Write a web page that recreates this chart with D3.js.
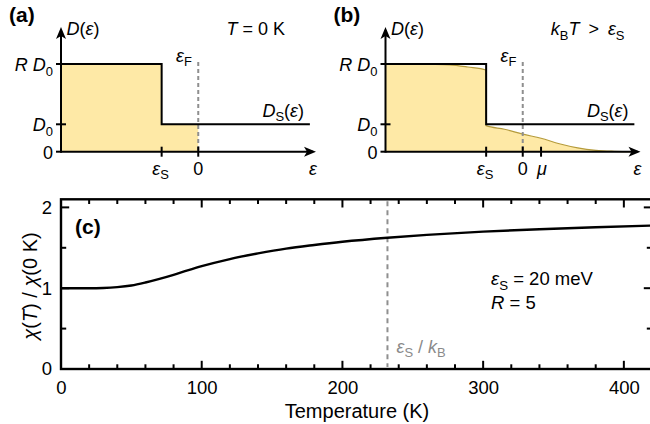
<!DOCTYPE html>
<html>
<head>
<meta charset="utf-8">
<script src="https://cdn.jsdelivr.net/npm/d3@7"></script>
<style>
  body { margin: 0; background: #fff; }
  svg { display: block; }
  text { font-family: "Liberation Sans", Arial, Helvetica, sans-serif; }
</style>
</head>
<body>
<svg id="fig" width="650" height="424"></svg>
<script>
// ---- schematic density of states: energy in units of |eps_S|, DOS in units of D0 ----
const energyDomain = [-3.75, 3.19];
const epsS = -1, epsF = 0, mu = 0.5;
const dosLow = 1, dosHigh = 3.2;
const dosTicks = [0, dosLow, dosHigh];
const xTicksA = [epsS, epsF];
const xTicksB = [epsS, epsF, mu];

// bare step DOS D_S(eps)
const stepE = [-3.75, -1, -1, 3.05];
const stepD = [dosHigh, dosHigh, dosLow, dosLow];

// occupied states at T = 0 K (filled up to eps_F)
const occAE = [-3.75, -1, -1, 0];
const occAD = [dosHigh, dosHigh, dosLow, dosLow];

// occupied states at k_B T > eps_S
const occBE = [-3.75, -3.0, -2.5, -2.0, -1.5, -1.0, -1.0, -0.5, 0, 0.5, 1.0, 1.5, 2.0, 2.5, 3.05];
const occBD = [3.2, 3.2, 3.19, 3.17, 3.09, 2.98, 0.95, 0.82, 0.64, 0.49, 0.29, 0.14, 0.05, 0.015, 0];

// ---- susceptibility ratio chi(T)/chi(0 K) ----
const temps = [0, 10, 20, 30, 40, 50, 60, 70, 80, 90, 100, 120, 140, 160, 180, 200, 232, 260, 300, 340, 380, 420];
const chiRatio = [1.00, 1.00, 1.00, 1.003, 1.013, 1.033, 1.07, 1.115, 1.165, 1.22, 1.272, 1.36, 1.43, 1.49, 1.535, 1.575, 1.625, 1.66, 1.70, 1.73, 1.755, 1.775];
const tempMajor = [0, 100, 200, 300, 400];
const tempMinor = [20, 40, 60, 80, 120, 140, 160, 180, 220, 240, 260, 280, 320, 340, 360, 380, 420];
const chiMajor = [0, 1, 2];
const chiMinor = [0.5, 1.5];
const epsSoverKB = 232;

const svg = d3.select("#fig");
const FILL = "#fee9a6";
const EDGE = "#b59b3c";
const DASH = "#8f8f8f";

// text with italic parts and subscripts: kinds "" (upright), "i" (italic), "s" (sub), "b" (bold)
function rich(parent, x, y, parts, size, anchor = "start", fill = "#000") {
  const t = parent.append("text")
    .attr("x", x).attr("y", y)
    .attr("font-size", size)
    .attr("text-anchor", anchor)
    .attr("fill", fill)
    .style("white-space", "pre");
  let shift = 0;
  parts.forEach(([s, k]) => {
    const sp = t.append("tspan").text(s);
    const sub = k.includes("s");
    const target = sub ? size * 0.27 : 0;
    if (target !== shift) { sp.attr("dy", target - shift); shift = target; }
    if (sub) sp.attr("font-size", size * 0.72);
    if (k.includes("i")) sp.attr("font-style", "italic");
    if (k.includes("b")) sp.attr("font-weight", "bold");
  });
  return t;
}

function arrowHead(g, x, y, angle) {
  g.append("path")
    .attr("d", "M0,0 L-12,-5 L-9,0 L-12,5 Z")
    .attr("transform", `translate(${x},${y}) rotate(${angle})`)
    .attr("fill", "#000");
}

function drawDOS(offsetX, occE, occD, xTicks, thermal) {
  const g = svg.append("g").attr("transform", `translate(${offsetX},0)`);
  const x = d3.scaleLinear(energyDomain, [61, 315]);
  const y = d3.scaleLinear([0, 4.55], [151.7, 27]);

  const occ = occE.map((e, i) => [e, occD[i]]);
  const area = d3.area().x(d => x(d[0])).y0(y(0)).y1(d => y(d[1]))
    .curve(thermal ? d3.curveMonotoneX : d3.curveLinear);
  g.append("path").datum(occ).attr("d", area).attr("fill", FILL);
  if (thermal) {
    const edge = d3.line().x(d => x(d[0])).y(d => y(d[1])).curve(d3.curveMonotoneX);
    g.append("path").datum(occ).attr("d", edge)
      .attr("fill", "none").attr("stroke", EDGE).attr("stroke-width", 1.2);
  }

  // eps_F marker
  g.append("line")
    .attr("x1", x(epsF)).attr("x2", x(epsF))
    .attr("y1", 62).attr("y2", y(0))
    .attr("stroke", DASH).attr("stroke-width", 2).attr("stroke-dasharray", "4,3");

  // step DOS
  const step = stepE.map((e, i) => [e, stepD[i]]);
  g.append("path").datum(step)
    .attr("d", d3.line().x(d => x(d[0])).y(d => y(d[1])))
    .attr("fill", "none").attr("stroke", "#000").attr("stroke-width", 2);

  // axes with arrows
  g.append("line").attr("x1", x(energyDomain[0])).attr("x2", 313)
    .attr("y1", y(0)).attr("y2", y(0)).attr("stroke", "#000").attr("stroke-width", 2);
  arrowHead(g, 316, y(0), 0);
  g.append("line").attr("x1", x(energyDomain[0])).attr("x2", x(energyDomain[0]))
    .attr("y1", y(0) + 1).attr("y2", 30).attr("stroke", "#000").attr("stroke-width", 2);
  arrowHead(g, x(energyDomain[0]), 27, -90);

  g.selectAll(".ytick").data(dosTicks).join("line")
    .attr("x1", x(energyDomain[0]) - 5).attr("x2", d => d === 0 ? x(energyDomain[0]) : x(energyDomain[0]) + 5)
    .attr("y1", d => y(d)).attr("y2", d => y(d)).attr("stroke", "#000").attr("stroke-width", 2);
  g.selectAll(".xtick").data(xTicks).join("line")
    .attr("x1", d => x(d)).attr("x2", d => x(d))
    .attr("y1", y(0) - 5).attr("y2", y(0) + 5).attr("stroke", "#000").attr("stroke-width", 2);

  // y tick labels
  rich(g, 53, 70.7, [["R ", "i"], ["D", "i"], ["0", "s"]], 18, "end");
  rich(g, 53, 131, [["D", "i"], ["0", "s"]], 18, "end");
  rich(g, 53, 158.5, [["0", ""]], 18, "end");

  // x tick labels
  rich(g, x(epsS) - 1, 174.5, [["ε", "i"], ["S", "s"]], 18, "middle");
  rich(g, x(epsF), 174.5, [["0", ""]], 18, "middle");
  if (thermal) rich(g, x(mu) + 1, 174.5, [["μ", "i"]], 18, "middle");
  rich(g, 313, 174.5, [["ε", "i"]], 18, "middle");

  // curve / axis annotations
  rich(g, 176, 61.5, [["ε", "i"], ["F", "s"]], 18, "start");
  rich(g, 66.5, 35, [["D", "i"], ["(", ""], ["ε", "i"], [")", ""]], 18);
  rich(g, 304, 116.5, [["D", "i"], ["S", "s"], ["(", ""], ["ε", "i"], [")", ""]], 18, "end");
  return g;
}

const ga = drawDOS(0, occAE, occAD, xTicksA, false);
rich(ga, 9, 21.5, [["(a)", "b"]], 21);
rich(ga, 285, 35, [["T", "i"], [" = 0 K", ""]], 18, "end");

const gb = drawDOS(324.5, occBE, occBD, xTicksB, true);
rich(gb, 9, 21.5, [["(b)", "b"]], 21);
rich(gb, 300, 35, [["k", "i"], ["B", "s"], ["T", "i"], ["\u2002>\u2002", ""], ["ε", "i"], ["S", "s"]], 18, "end");

// ---- panel (c): chi(T)/chi(0 K) versus temperature ----
const gc = svg.append("g");
const xc = d3.scaleLinear([0, 420], [61, 652]);
const yc = d3.scaleLinear([0, 2.1], [369, 199.3]);
const font = '"Liberation Sans", Arial, sans-serif';

// tick labels from d3 axes
const labelAxis = sel => {
  sel.select(".domain").remove();
  sel.selectAll(".tick line").remove();
  sel.selectAll(".tick text").attr("font-size", 18.5).attr("fill", "#000").attr("font-family", font);
};
gc.append("g").attr("transform", `translate(0,${yc(0)})`)
  .call(d3.axisBottom(xc).tickValues(tempMajor).tickFormat(d3.format("d")).tickSize(0).tickPadding(12))
  .call(labelAxis);
gc.append("g").attr("transform", `translate(${xc(0)},0)`)
  .call(d3.axisLeft(yc).tickValues(chiMajor).tickFormat(d3.format("d")).tickSize(0).tickPadding(9))
  .call(labelAxis);

// inward tick marks on all four sides
const tk = gc.append("g").attr("stroke", "#000").attr("stroke-width", 2);
const xMarks = tempMajor.map(v => ({v, len: 7})).concat(tempMinor.map(v => ({v, len: 3.5})));
const yMarks = chiMajor.map(v => ({v, len: 7})).concat(chiMinor.map(v => ({v, len: 4})));
tk.selectAll(".xb").data(xMarks).join("line")
  .attr("x1", d => xc(d.v)).attr("x2", d => xc(d.v))
  .attr("y1", yc(0)).attr("y2", d => yc(0) - 1.2 - d.len);
tk.selectAll(".xt").data(xMarks).join("line")
  .attr("x1", d => xc(d.v)).attr("x2", d => xc(d.v))
  .attr("y1", yc(2.1)).attr("y2", d => yc(2.1) + 1.2 + d.len);
tk.selectAll(".yl").data(yMarks).join("line")
  .attr("y1", d => yc(d.v)).attr("y2", d => yc(d.v))
  .attr("x1", xc(0)).attr("x2", d => xc(0) + 1.2 + d.len);
tk.selectAll(".yr").data(yMarks).join("line")
  .attr("y1", d => yc(d.v)).attr("y2", d => yc(d.v))
  .attr("x1", xc(420)).attr("x2", d => xc(420) - 1.2 - d.len);

// frame
gc.append("rect")
  .attr("x", xc(0)).attr("y", yc(2.1))
  .attr("width", xc(420) - xc(0)).attr("height", yc(0) - yc(2.1))
  .attr("fill", "none").attr("stroke", "#000").attr("stroke-width", 2.4);

// eps_S / k_B marker
gc.append("line")
  .attr("x1", xc(epsSoverKB)).attr("x2", xc(epsSoverKB))
  .attr("y1", yc(2.1) + 2).attr("y2", yc(0) - 2)
  .attr("stroke", DASH).attr("stroke-width", 2).attr("stroke-dasharray", "5,4");
rich(gc, xc(epsSoverKB) + 9, 352.5, [["ε", "i"], ["S", "s"], [" / ", ""], ["k", "i"], ["B", "s"]], 18, "start", "#8a8a8a");

// chi ratio curve
const chiPts = temps.map((t, i) => [t, chiRatio[i]]);
gc.append("path").datum(chiPts)
  .attr("d", d3.line().x(d => xc(d[0])).y(d => yc(d[1])).curve(d3.curveMonotoneX))
  .attr("fill", "none").attr("stroke", "#000").attr("stroke-width", 2.4);

// labels
rich(gc, 75, 234, [["(c)", "b"]], 21);
rich(gc, 491, 285, [["ε", "i"], ["S", "s"], [" = 20 meV", ""]], 18.5);
rich(gc, 491, 308.5, [["R", "i"], [" = 5", ""]], 18.5);
rich(gc, 357, 417.5, [["Temperature (K)", ""]], 20, "middle");
rich(gc, 0, 0, [["χ", "i"], ["(", ""], ["T", "i"], [") / ", ""], ["χ", "i"], ["(0 K)", ""]], 20, "middle")
  .attr("transform", "translate(37,286) rotate(-90)");
</script>
</body>
</html>
